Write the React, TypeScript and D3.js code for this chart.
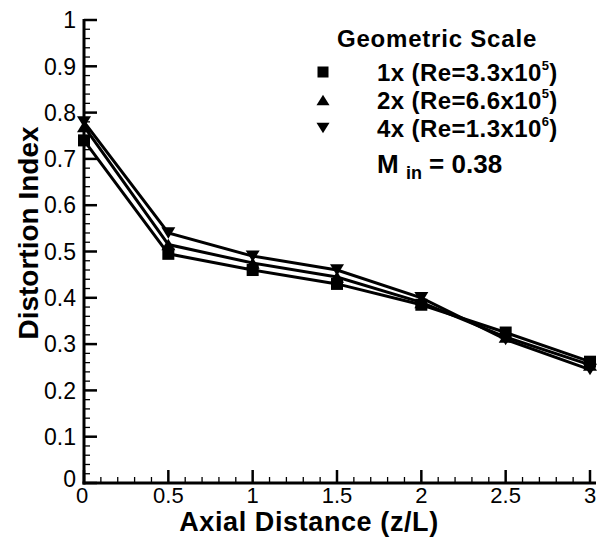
import React, { useEffect, useRef } from 'react';
import * as d3 from 'd3';

// axial distance z/L
const axialDistance = [0, 0.5, 1, 1.5, 2, 2.5, 3];

// distortion index for each geometric scale
const scale1x = [0.74, 0.495, 0.46, 0.43, 0.385, 0.325, 0.262];
const scale2x = [0.77, 0.515, 0.475, 0.445, 0.39, 0.315, 0.255];
const scale4x = [0.78, 0.54, 0.49, 0.46, 0.4, 0.31, 0.245];

const seriesLabels = ['1x (Re=3.3x10', '2x (Re=6.6x10', '4x (Re=1.3x10'];
const seriesExponents = ['5', '5', '6'];
const seriesSymbols = ['square', 'up', 'down'];

const yTickLabels = ['0', '0.1', '0.2', '0.3', '0.4', '0.5', '0.6', '0.7', '0.8', '0.9', '1'];
const xTickLabels = ['0', '0.5', '1', '1.5', '2', '2.5', '3'];

const FONT = 'Liberation Sans, Arial, Helvetica, sans-serif';

const App = () => {
  const ref = useRef<SVGSVGElement>(null);

  useEffect(() => {
    const svg = d3.select(ref.current);
    svg.selectAll('*').remove();

    const x = d3.scaleLinear().domain([0, 3]).range([84, 590]);
    const y = d3.scaleLinear().domain([0, 1]).range([483, 20]);

    const drawSymbol = (g: any, kind: string, cx: number, cy: number, s: number) => {
      if (kind === 'square') {
        g.append('rect')
          .attr('x', cx - s / 2)
          .attr('y', cy - s / 2)
          .attr('width', s)
          .attr('height', s)
          .attr('fill', '#000');
      } else {
        const h = s * 0.95;
        const dir = kind === 'up' ? 1 : -1;
        const pts = [
          [cx, cy - (dir * h) / 2],
          [cx - s / 2 - 1, cy + (dir * h) / 2],
          [cx + s / 2 + 1, cy + (dir * h) / 2],
        ];
        g.append('polygon')
          .attr('points', pts.map((p) => p.join(',')).join(' '))
          .attr('fill', '#000');
      }
    };

    // axes
    const axis = svg.append('g');
    axis.append('line')
      .attr('x1', x(0)).attr('x2', x(0))
      .attr('y1', y(1) - 1).attr('y2', y(0) + 1.5)
      .attr('stroke', '#000').attr('stroke-width', 3);
    axis.append('line')
      .attr('x1', x(0) - 1.5).attr('x2', x(3) + 6)
      .attr('y1', y(0)).attr('y2', y(0))
      .attr('stroke', '#000').attr('stroke-width', 3);

    // y ticks
    d3.range(0, 51).forEach((i) => {
      const v = i / 50;
      const major = i % 5 === 0;
      axis.append('line')
        .attr('x1', x(0)).attr('x2', x(0) + (major ? 13 : 6))
        .attr('y1', y(v)).attr('y2', y(v))
        .attr('stroke', '#000').attr('stroke-width', major ? 2.5 : 1.3);
    });
    // x ticks
    d3.range(0, 31).forEach((i) => {
      const v = i / 10;
      const major = i % 5 === 0;
      axis.append('line')
        .attr('x1', x(v)).attr('x2', x(v))
        .attr('y1', y(0)).attr('y2', y(0) - (major ? 13 : 6))
        .attr('stroke', '#000').attr('stroke-width', major ? 2.5 : 1.3);
    });

    yTickLabels.forEach((t) => {
      axis.append('text')
        .attr('x', 76)
        .attr('y', y(+t) - (t === '0' ? 4 : 0))
        .attr('dy', '0.36em')
        .attr('text-anchor', 'end')
        .attr('font-family', FONT)
        .attr('font-size', 23)
        .text(t);
    });
    xTickLabels.forEach((t) => {
      axis.append('text')
        .attr('x', x(+t) - (t === '0' ? 2 : 0))
        .attr('y', 503)
        .attr('text-anchor', 'middle')
        .attr('font-family', FONT)
        .attr('font-size', 22)
        .text(t);
    });

    // titles
    svg.append('text')
      .attr('x', 309).attr('y', 531)
      .attr('text-anchor', 'middle')
      .attr('font-family', FONT)
      .attr('font-size', 27)
      .attr('font-weight', 'bold')
      .attr('letter-spacing', 0.6)
      .text('Axial Distance (z/L)');
    svg.append('text')
      .attr('transform', 'translate(38,233) rotate(-90)')
      .attr('text-anchor', 'middle')
      .attr('font-family', FONT)
      .attr('font-size', 28)
      .attr('font-weight', 'bold')
      .text('Distortion Index');

    // series
    const allSeries = [scale1x, scale2x, scale4x];
    const line = d3.line<number>()
      .x((_, i) => x(axialDistance[i]))
      .y((d) => y(d));

    allSeries.forEach((vals) => {
      svg.append('path')
        .datum(vals)
        .attr('d', line)
        .attr('fill', 'none')
        .attr('stroke', '#000')
        .attr('stroke-width', 3);
    });
    allSeries.forEach((vals, si) => {
      const g = svg.append('g');
      vals.forEach((v, i) => {
        drawSymbol(g, seriesSymbols[si], x(axialDistance[i]), y(v), 12);
      });
    });

    // legend
    const legend = svg.append('g');
    legend.append('text')
      .attr('x', 437).attr('y', 47)
      .attr('text-anchor', 'middle')
      .attr('font-family', FONT)
      .attr('font-size', 24)
      .attr('font-weight', 'bold')
      .attr('letter-spacing', 0.8)
      .text('Geometric Scale');
    seriesLabels.forEach((lab, i) => {
      const cy = 72 + i * 28;
      drawSymbol(legend, seriesSymbols[i], 323, cy, 11);
      const t = legend.append('text')
        .attr('x', 377).attr('y', cy + 9)
        .attr('font-family', FONT)
        .attr('font-size', 24)
        .attr('font-weight', 'bold')
        .attr('letter-spacing', 0.4);
      t.append('tspan').text(lab);
      t.append('tspan').attr('dy', -11).attr('font-size', 13).text(seriesExponents[i]);
      t.append('tspan').attr('dy', 11).text(')');
    });
    const m = legend.append('text')
      .attr('x', 377).attr('y', 173)
      .attr('font-family', FONT)
      .attr('font-size', 26)
      .attr('font-weight', 'bold');
    m.append('tspan').text('M ');
    m.append('tspan').attr('dy', 6).attr('font-size', 18).text('in');
    m.append('tspan').attr('dy', -6).text(' = 0.38');
  }, []);

  return (
    <svg
      ref={ref}
      width={606}
      height={543}
      style={{ position: 'absolute', left: 0, top: 0, background: '#fff' }}
    />
  );
};

export default App;
